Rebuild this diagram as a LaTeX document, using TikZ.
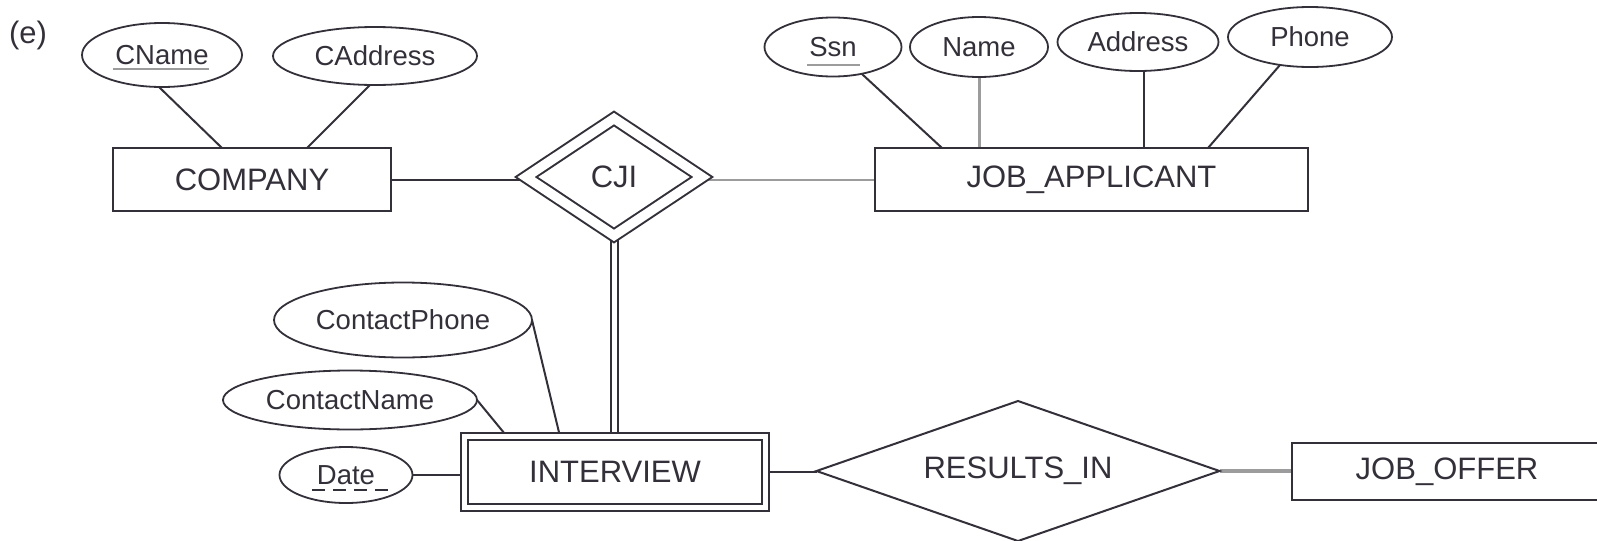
\documentclass[tikz,border=0pt]{standalone}
\usepackage{fontspec}
\setmainfont{Liberation Sans}
\usetikzlibrary{shapes.geometric,calc,backgrounds}
\definecolor{ink}{HTML}{34303A}
\definecolor{lgray}{HTML}{9C9C9C}
\begin{document}
\begin{tikzpicture}[x=0.5pt,y=-0.5pt,
  every node/.style={text=ink, inner sep=0pt, outer sep=0pt},
  entfont/.style={font=\fontsize{15.5}{18}\selectfont},
  attfont/.style={font=\fontsize{13.75}{16}\selectfont},
  entity/.style={rectangle, draw=ink, line width=1pt, fill=white, entfont},
  weakentity/.style={entity, double=white, double distance=2.5pt},
  attr/.style={ellipse, draw=ink, line width=0.9pt, fill=white, attfont},
  rel/.style={diamond, draw=ink, line width=1pt, fill=white, entfont},
  weakrel/.style={rel, double=white, double distance=4.7pt},
  conn/.style={draw=ink, line width=1pt},
  keyline/.style={draw=lgray, line width=1.2pt},
  partialkey/.style={draw=ink, line width=1.1pt, dash pattern=on 6.5pt off 4pt}
]
\useasboundingbox (0,0) rectangle (1597,541);

% panel tag
\node[entfont] (tag) at (28,35) {(e)};

% entities
\node[entity, minimum width=139pt, minimum height=31.5pt] (company) at (252,179.5) {COMPANY};
\node[entity, minimum width=216.5pt, minimum height=31.5pt] (ja) at (1091.5,179.5) {JOB\_APPLICANT};
\node[weakentity, minimum width=150.5pt, minimum height=35.5pt] (interview) at (615,472) {INTERVIEW};
\node[entity, minimum width=155pt, minimum height=28.5pt] (joboffer) at (1447,471.5) {JOB\_OFFER};

% relationships
\node[weakrel, aspect=1.5, minimum width=88pt, minimum height=58.5pt] (cji) at (614,177) {CJI};
\node[rel, aspect=2.88, minimum width=201.5pt, minimum height=70pt] (results) at (1018,471) {RESULTS\_IN};

% attributes
\node[attr, minimum width=80pt, minimum height=32pt] (cnameA) at (162,55) {CName};
\node[attr, minimum width=102pt, minimum height=29pt] (caddr) at (375,56) {CAddress};
\node[attr, minimum width=68.5pt, minimum height=29.5pt] (ssn) at (833,47) {Ssn};
\node[attr, minimum width=69pt, minimum height=30pt] (nameA) at (979,47) {Name};
\node[attr, minimum width=80.5pt, minimum height=29pt] (addr) at (1138,42) {Address};
\node[attr, minimum width=82pt, minimum height=30pt] (phone) at (1310,37) {Phone};
\node[attr, minimum width=129pt, minimum height=37.5pt] (cphone) at (403,320) {ContactPhone};
\node[attr, minimum width=127pt, minimum height=29.5pt] (cnameB) at (350,400) {ContactName};
\node[attr, minimum width=66.5pt, minimum height=28pt] (date) at (346,475) {Date};

% key underlines
\draw[keyline] ($(cnameA.center)+(-49,14)$) -- ++(96,0);
\draw[keyline] ($(ssn.center)+(-26,18)$) -- ++(53,0);
\draw[partialkey] ($(date.center)+(-34,15)$) -- ++(76,0);

\coordinate (addrfoot) at ($(addr.south)+(6,0)$);

\begin{pgfonlayer}{background}
  % COMPANY attributes
  \draw[conn] ($(cnameA.south)+(-3,0)$) -- ($(company.north west)+(109,0)$);
  \draw[conn] ($(caddr.south)+(-5,0)$) -- ($(company.north west)+(194,0)$);
  % JOB_APPLICANT attributes
  \draw[conn] (ssn.-43) -- ($(ja.north west)+(67,0)$);
  \draw[conn, draw=lgray, line width=1.5pt] (nameA.south) -- (nameA.south |- ja.north);
  \draw[conn] (addrfoot) -- (addrfoot |- ja.north);
  \draw[conn] (phone.223) -- ($(ja.north west)+(333,0)$);
  % INTERVIEW attributes
  \draw[conn] (cphone.east) -- ($(interview.north west)+(95.5,0)$);
  \draw[conn] (cnameB.east) -- ($(interview.north west)+(42.5,0)$);
  \draw[conn] (date.east) -- (date.east -| interview.west);
  % relationship participation
  \draw[conn] (company.east) -- (company.east -| cji.west);
  \draw[conn, draw=lgray] (ja.west -| cji.east) -- (ja.west);
  \draw[conn, double=white, double distance=2.5pt] (cji.south) -- (cji.south |- interview.north);
  \draw[conn] (interview.east) -- (interview.east -| results.west);
  \draw[conn, draw=lgray, line width=2pt] (results.east) -- (results.east -| joboffer.west);
\end{pgfonlayer}
\end{tikzpicture}
\end{document}
